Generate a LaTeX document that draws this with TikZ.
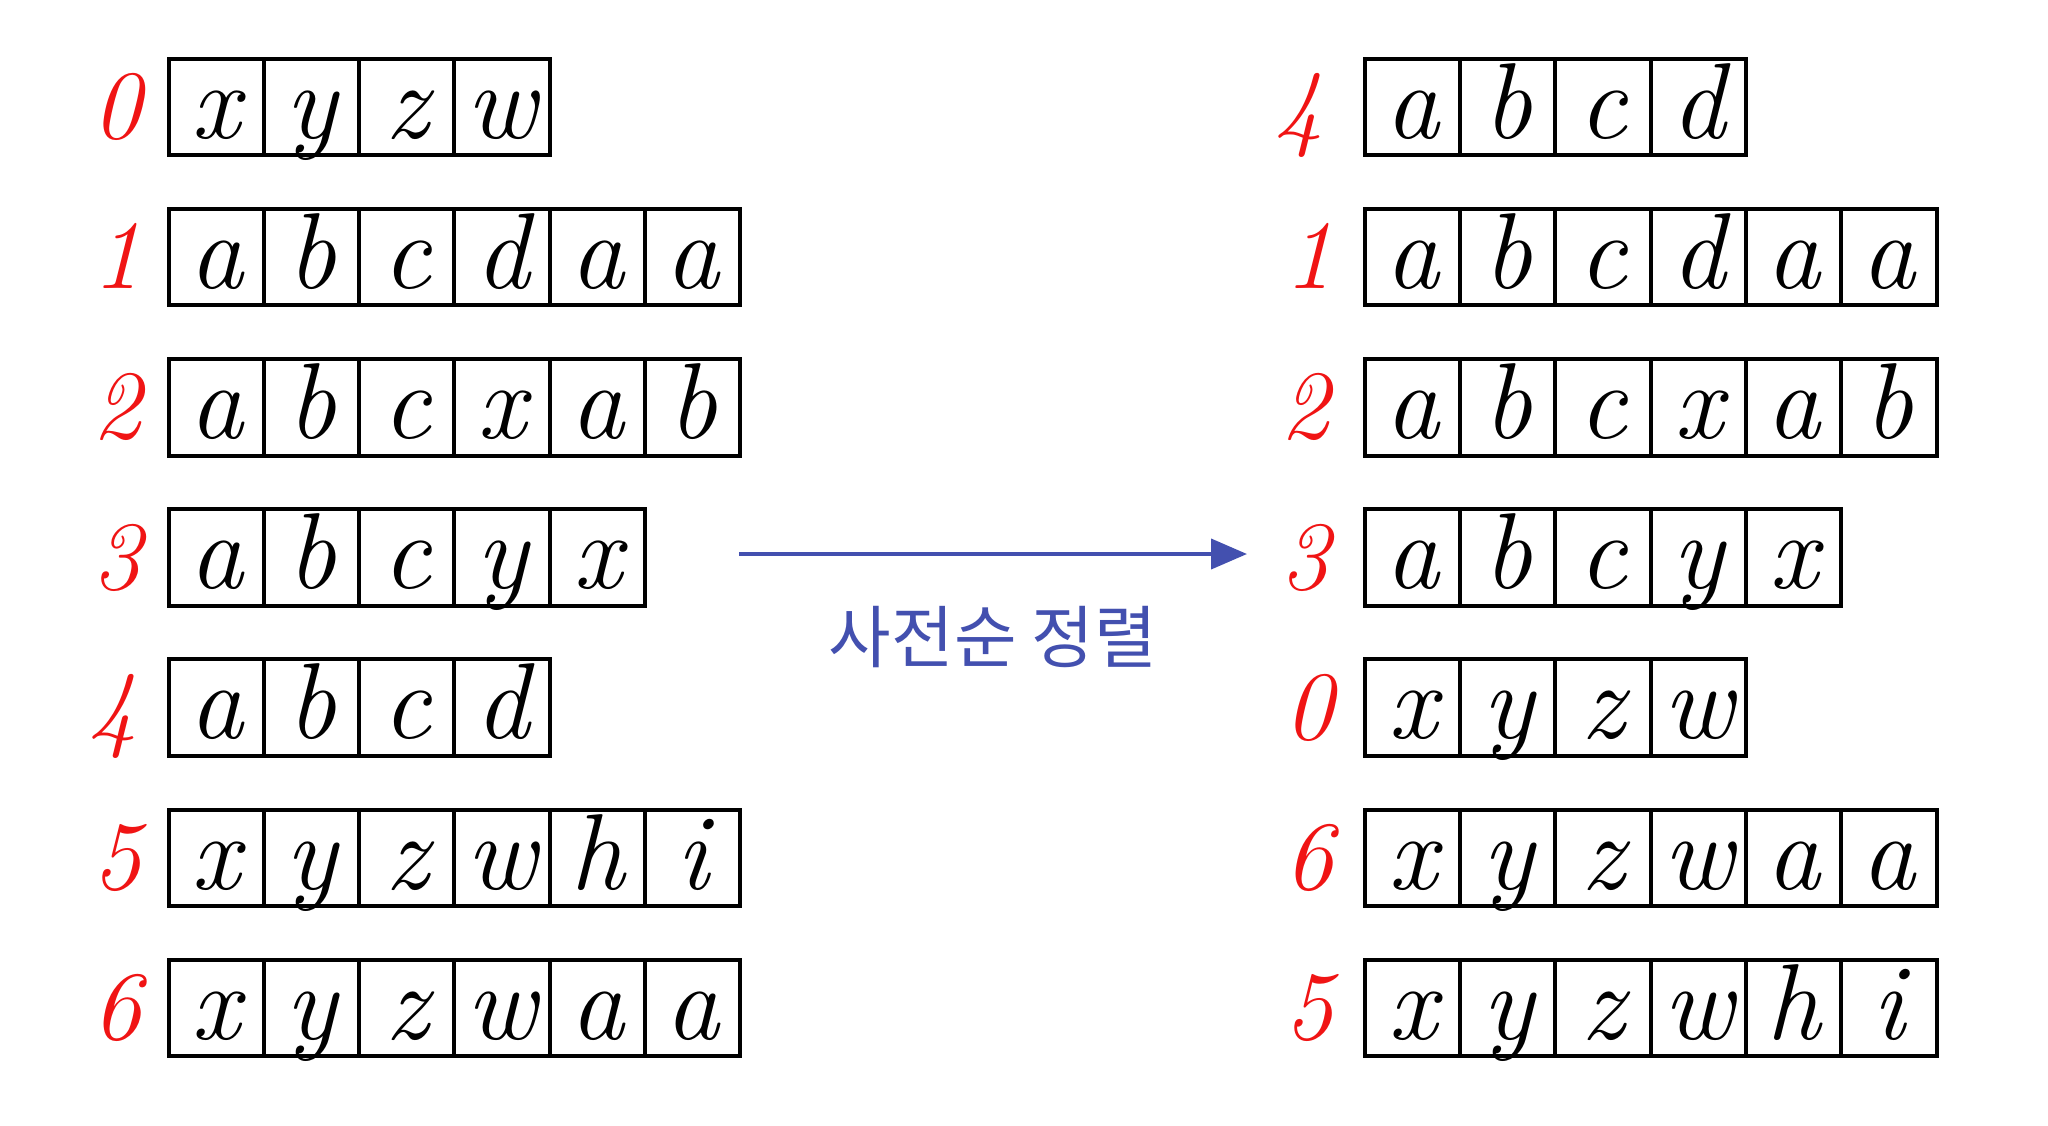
\documentclass[tikz,border=0pt]{standalone}
\usepackage{fontspec}
\newfontfamily\krfont{Noto Sans CJK KR}
\usetikzlibrary{arrows.meta,calc}
\definecolor{numred}{HTML}{F01414}
\definecolor{sortblue}{HTML}{4350AF}
\tikzset{
  cell/.style={draw=black, line width=4pt, minimum width=95.3pt, minimum height=96.6pt, inner sep=0pt, anchor=north west},
  letter/.style={anchor=base, inner sep=0pt, font=\fontsize{108}{120}\selectfont\itshape},
  numlabel/.style={anchor=base, inner sep=0pt, text=numred, font=\fontsize{98}{110}\selectfont\itshape},
  sortarrow/.style={draw=sortblue, line width=4pt, -{Triangle[length=36pt,width=30pt]}},
  sortlabel/.style={text=sortblue, inner sep=0pt, font=\krfont\fontsize{68}{74}\selectfont}
}
% #1 prefix, #2 box x, #3 box top y, #4 number, #5 number x offset, #6 letters
\newcommand\drawrow[6]{%
  \node[numlabel] (#1n) at (#2+#5, #3+82) {#4};
  \foreach \l [count=\i] in {#6} {
    \node[cell] (#1c\i) at ({#2+(\i-1)*95.3}, #3) {};
    \node[letter] (#1l\i) at ($(#1c\i.south)+(0,-19)$) {\l};
  }%
}
\begin{document}
\begin{tikzpicture}[x=1pt,y=-1pt]
\fill[white] (0,0) rectangle (2048,1125);
\useasboundingbox (0,0) rectangle (2048,1125);
% left column
\drawrow{La}{166.5}{56.5}{0}{-50}{x,y,z,w}
\drawrow{Lb}{166.5}{206.7}{1}{-50}{a,b,c,d,a,a}
\drawrow{Lc}{166.5}{356.9}{2}{-50}{a,b,c,x,a,b}
\drawrow{Ld}{166.5}{507.1}{3}{-50}{a,b,c,y,x}
\drawrow{Le}{166.5}{657.3}{4}{-54}{a,b,c,d}
\drawrow{Lf}{166.5}{807.5}{5}{-50}{x,y,z,w,h,i}
\drawrow{Lg}{166.5}{957.7}{6}{-50}{x,y,z,w,a,a}
% right column
\drawrow{Ra}{1362.8}{56.5}{4}{-64}{a,b,c,d}
\drawrow{Rb}{1362.8}{206.7}{1}{-54}{a,b,c,d,a,a}
\drawrow{Rc}{1362.8}{356.9}{2}{-58}{a,b,c,x,a,b}
\drawrow{Rd}{1362.8}{507.1}{3}{-58}{a,b,c,y,x}
\drawrow{Re}{1362.8}{657.3}{0}{-54}{x,y,z,w}
\drawrow{Rf}{1362.8}{807.5}{6}{-54}{x,y,z,w,a,a}
\drawrow{Rg}{1362.8}{957.7}{5}{-54}{x,y,z,w,h,i}
% arrow
\coordinate (arrS) at (739,554);
\coordinate (arrE) at (1247,554);
\draw[sortarrow] (arrS) -- (arrE);
\node[sortlabel] (sortlbl) at (993,637) {사전순 정렬};
\end{tikzpicture}
\end{document}
